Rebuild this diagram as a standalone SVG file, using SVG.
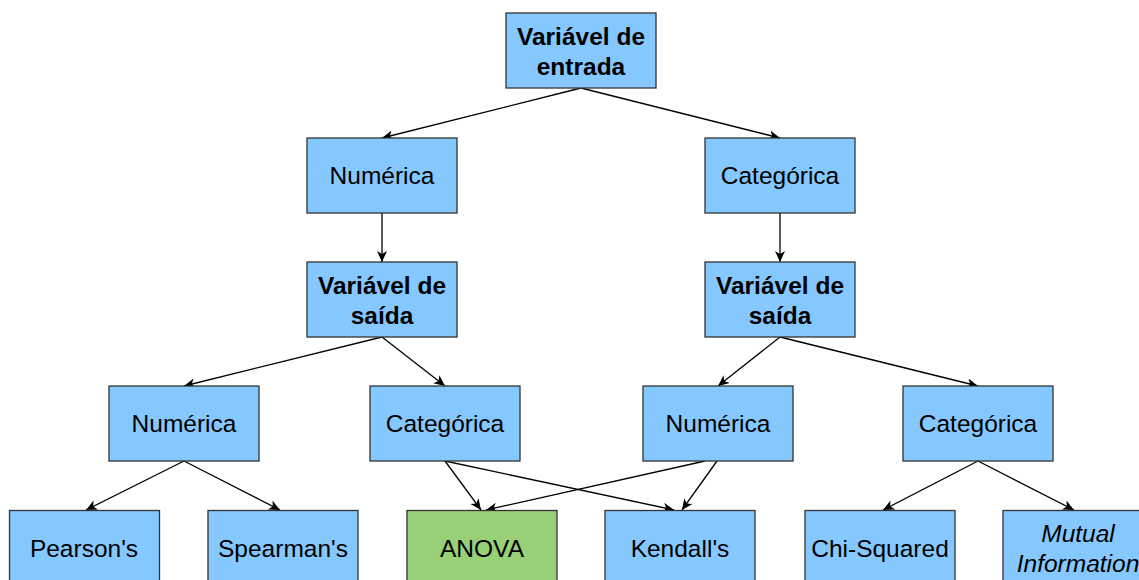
<svg xmlns="http://www.w3.org/2000/svg" width="1139" height="580" viewBox="0 0 1139 580">
<style>
.b{fill:#85C8FF;stroke:#333;stroke-width:1.3}
.g{fill:#97D077;stroke:#333;stroke-width:1.3}
text{font-family:"Liberation Sans",Arial,sans-serif;font-size:24.5px;fill:#000;text-anchor:middle}
.bd{font-weight:bold}
.it{font-style:italic}
.c line{stroke:#000;stroke-width:1.3;marker-end:url(#a)}
</style>
<defs>
<marker id="a" markerUnits="userSpaceOnUse" markerWidth="14" markerHeight="12" refX="11" refY="5" orient="auto">
<path d="M0,0 L11,5 L0,10 L3,5 z" fill="#000"/>
</marker>
</defs>
<rect width="1139" height="580" fill="#fff"/>
<g class="c">
<line x1="581" y1="88" x2="382" y2="138"/>
<line x1="581" y1="88" x2="780" y2="138"/>
<line x1="382" y1="213" x2="382" y2="262"/>
<line x1="780" y1="213" x2="780" y2="262"/>
<line x1="382" y1="337" x2="184" y2="386"/>
<line x1="382" y1="337" x2="445" y2="386"/>
<line x1="780" y1="337" x2="718" y2="386"/>
<line x1="780" y1="337" x2="978" y2="386"/>
<line x1="184" y1="461" x2="86" y2="510"/>
<line x1="184" y1="461" x2="280" y2="510"/>
<line x1="445" y1="461" x2="481" y2="510"/>
<line x1="445" y1="461" x2="674" y2="510"/>
<line x1="705" y1="461" x2="486" y2="510"/>
<line x1="717" y1="461" x2="682" y2="510"/>
<line x1="978" y1="461" x2="883" y2="510"/>
<line x1="978" y1="461" x2="1074" y2="510"/>
</g>
<g id="entrada"><rect class="b" x="506" y="13" width="150" height="75"/><text class="bd" x="581" y="44.5">Variável de</text><text class="bd" x="581" y="74.5">entrada</text></g>
<g id="num1"><rect class="b" x="307" y="138" width="150" height="75"/><text x="382" y="184">Numérica</text></g>
<g id="cat1"><rect class="b" x="705" y="138" width="150" height="75"/><text x="780" y="184">Categórica</text></g>
<g id="saida1"><rect class="b" x="307" y="262" width="150" height="75"/><text class="bd" x="382" y="293.5">Variável de</text><text class="bd" x="382" y="323.5">saída</text></g>
<g id="saida2"><rect class="b" x="705" y="262" width="150" height="75"/><text class="bd" x="780" y="293.5">Variável de</text><text class="bd" x="780" y="323.5">saída</text></g>
<g id="num2"><rect class="b" x="109" y="386" width="150" height="75"/><text x="184" y="432">Numérica</text></g>
<g id="cat2"><rect class="b" x="370" y="386" width="150" height="75"/><text x="445" y="432">Categórica</text></g>
<g id="num3"><rect class="b" x="643" y="386" width="150" height="75"/><text x="718" y="432">Numérica</text></g>
<g id="cat3"><rect class="b" x="903" y="386" width="150" height="75"/><text x="978" y="432">Categórica</text></g>
<g id="pearson"><rect class="b" x="9.5" y="510.5" width="150" height="75"/><text x="84" y="556.5">Pearson's</text></g>
<g id="spearman"><rect class="b" x="208" y="510.5" width="150" height="75"/><text x="283" y="556.5">Spearman's</text></g>
<g id="anova"><rect class="g" x="407" y="510.5" width="150" height="75"/><text x="482" y="556.5">ANOVA</text></g>
<g id="kendall"><rect class="b" x="605" y="510.5" width="150" height="75"/><text x="680" y="556.5">Kendall's</text></g>
<g id="chi"><rect class="b" x="805" y="510.5" width="150" height="75"/><text x="880" y="556.5">Chi-Squared</text></g>
<g id="mutual"><rect class="b" x="1003" y="510.5" width="150" height="75"/><text class="it" x="1078" y="541.5">Mutual</text><text class="it" x="1078" y="571.5">Information</text></g>
</svg>
